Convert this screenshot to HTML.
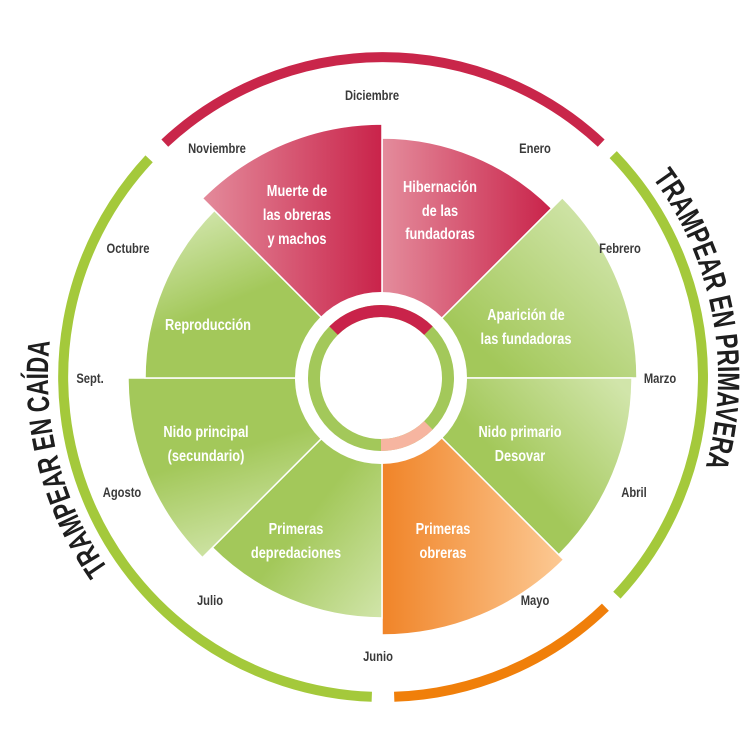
<!DOCTYPE html>
<html><head><meta charset="utf-8"><style>
html,body{margin:0;padding:0;background:#fff;}
svg{display:block;}
text{font-family:"Liberation Sans Narrow","Liberation Sans",sans-serif;font-weight:bold;}
.m{font-size:14px;fill:#3a3a3a;text-anchor:middle;}
.w{font-size:16px;fill:#fff;text-anchor:middle;}
.t{font-size:31px;fill:#1e1e1e;}
</style></head><body>
<svg width="756" height="756" viewBox="0 0 756 756" xmlns="http://www.w3.org/2000/svg">
<defs>
<linearGradient id="gHib" gradientUnits="userSpaceOnUse" x1="382" y1="0" x2="552" y2="0"><stop offset="0" stop-color="#e48c9c"/><stop offset="1" stop-color="#c9234a"/></linearGradient>
<linearGradient id="gMue" gradientUnits="userSpaceOnUse" x1="200" y1="0" x2="382" y2="0"><stop offset="0" stop-color="#e48c9c"/><stop offset="1" stop-color="#c9234a"/></linearGradient>
<linearGradient id="gApa" gradientUnits="userSpaceOnUse" x1="600" y1="200" x2="470" y2="340"><stop offset="0" stop-color="#d4e7b0"/><stop offset="1" stop-color="#a3c85a"/></linearGradient>
<linearGradient id="gNp" gradientUnits="userSpaceOnUse" x1="620" y1="385" x2="520" y2="480"><stop offset="0" stop-color="#d1e5aa"/><stop offset="1" stop-color="#a3c85a"/></linearGradient>
<linearGradient id="gObr" gradientUnits="userSpaceOnUse" x1="382" y1="0" x2="560" y2="0"><stop offset="0" stop-color="#f08428"/><stop offset="1" stop-color="#fcc892"/></linearGradient>
<linearGradient id="gDep" gradientUnits="userSpaceOnUse" x1="290" y1="540" x2="385" y2="615"><stop offset="0" stop-color="#a3c85a"/><stop offset="1" stop-color="#d1e5aa"/></linearGradient>
<linearGradient id="gNpr" gradientUnits="userSpaceOnUse" x1="200" y1="460" x2="230" y2="560"><stop offset="0" stop-color="#a3c85a"/><stop offset="1" stop-color="#d1e5aa"/></linearGradient>
<linearGradient id="gRep" gradientUnits="userSpaceOnUse" x1="200" y1="215" x2="235" y2="300"><stop offset="0" stop-color="#cfe4a8"/><stop offset="1" stop-color="#a3c85a"/></linearGradient>
<path id="pR" d="M383 42 A335 335 0 0 1 383 712"/>
<path id="pL" d="M383 712 A335 335 0 0 1 383 42"/>
</defs>

<g fill="none" stroke-width="10">
<path d="M164.8 143.1 A320 320 0 0 1 601.2 143.1" stroke="#c9264a"/>
<path d="M613.2 154.6 A320 320 0 0 1 616.9 595.2" stroke="#a4c93b"/>
<path d="M605.4 607.2 A320 320 0 0 1 394.2 696.8" stroke="#f07f0a"/>
<path d="M371.8 696.8 A320 320 0 0 1 149.1 158.8" stroke="#a4c93b"/>
</g>

<g stroke="#fff" stroke-width="1.5">
<path d="M382 378 L382 138 A240 240 0 0 1 551.7 208.3 Z" fill="url(#gHib)"/>
<path d="M382 378 L562.3 197.7 A255 255 0 0 1 637 378 Z" fill="url(#gApa)"/>
<path d="M382 378 L632 378 A250 250 0 0 1 558.8 554.8 Z" fill="url(#gNp)"/>
<path d="M382 378 L563.7 559.7 A257 257 0 0 1 382 635 Z" fill="url(#gObr)"/>
<path d="M382 378 L382 618 A240 240 0 0 1 212.3 547.7 Z" fill="url(#gDep)"/>
<path d="M382 378 L202.4 557.6 A254 254 0 0 1 128 378 Z" fill="url(#gNpr)"/>
<path d="M382 378 L145 378 A237 237 0 0 1 214.4 210.4 Z" fill="url(#gRep)"/>
<path d="M382 378 L202.4 198.4 A254 254 0 0 1 382 124 Z" fill="url(#gMue)"/>
</g>

<circle cx="381" cy="378" r="86" fill="#fff"/>
<g fill="none" stroke-width="12">
<circle cx="381" cy="378" r="67" stroke="#a3c85a"/>
<path d="M333.6 330.6 A67 67 0 0 1 428.4 330.6" stroke="#c9234a"/>
<path d="M428.4 425.4 A67 67 0 0 1 381 445" stroke="#f6b5a0"/>
</g>

<g class="m">
<text class="m" transform="translate(372 100) scale(0.8 1)">Diciembre</text>
<text class="m" transform="translate(535 153) scale(0.8 1)">Enero</text>
<text class="m" transform="translate(620 253) scale(0.8 1)">Febrero</text>
<text class="m" transform="translate(660 383) scale(0.8 1)">Marzo</text>
<text class="m" transform="translate(634 497) scale(0.8 1)">Abril</text>
<text class="m" transform="translate(535 605) scale(0.8 1)">Mayo</text>
<text class="m" transform="translate(378 661) scale(0.8 1)">Junio</text>
<text class="m" transform="translate(210 605) scale(0.8 1)">Julio</text>
<text class="m" transform="translate(122 497) scale(0.8 1)">Agosto</text>
<text class="m" transform="translate(90 383) scale(0.8 1)">Sept.</text>
<text class="m" transform="translate(128 253) scale(0.8 1)">Octubre</text>
<text class="m" transform="translate(217 153) scale(0.8 1)">Noviembre</text>
</g>

<text class="w" transform="translate(297 196) scale(0.8 1)">Muerte de</text>
<text class="w" transform="translate(297 220) scale(0.8 1)">las obreras</text>
<text class="w" transform="translate(297 244) scale(0.8 1)">y machos</text>
<text class="w" transform="translate(440 192) scale(0.8 1)">Hibernación</text>
<text class="w" transform="translate(440 216) scale(0.8 1)">de las</text>
<text class="w" transform="translate(440 239) scale(0.8 1)">fundadoras</text>
<text class="w" transform="translate(526 320) scale(0.8 1)">Aparición de</text>
<text class="w" transform="translate(526 344) scale(0.8 1)">las fundadoras</text>
<text class="w" transform="translate(520 437) scale(0.8 1)">Nido primario</text>
<text class="w" transform="translate(520 461) scale(0.8 1)">Desovar</text>
<text class="w" transform="translate(443 534) scale(0.8 1)">Primeras</text>
<text class="w" transform="translate(443 558) scale(0.8 1)">obreras</text>
<text class="w" transform="translate(296 534) scale(0.8 1)">Primeras</text>
<text class="w" transform="translate(296 558) scale(0.8 1)">depredaciones</text>
<text class="w" transform="translate(206 437) scale(0.8 1)">Nido principal</text>
<text class="w" transform="translate(206 461) scale(0.8 1)">(secundario)</text>
<text class="w" transform="translate(208 330) scale(0.8 1)">Reproducción</text>

<text class="t"><textPath href="#pR" startOffset="313" textLength="304" lengthAdjust="spacingAndGlyphs">TRAMPEAR EN PRIMAVERA</textPath></text>
<text class="t"><textPath href="#pL" startOffset="322" textLength="240" lengthAdjust="spacingAndGlyphs">TRAMPEAR EN CAÍDA</textPath></text>
</svg>
</body></html>
